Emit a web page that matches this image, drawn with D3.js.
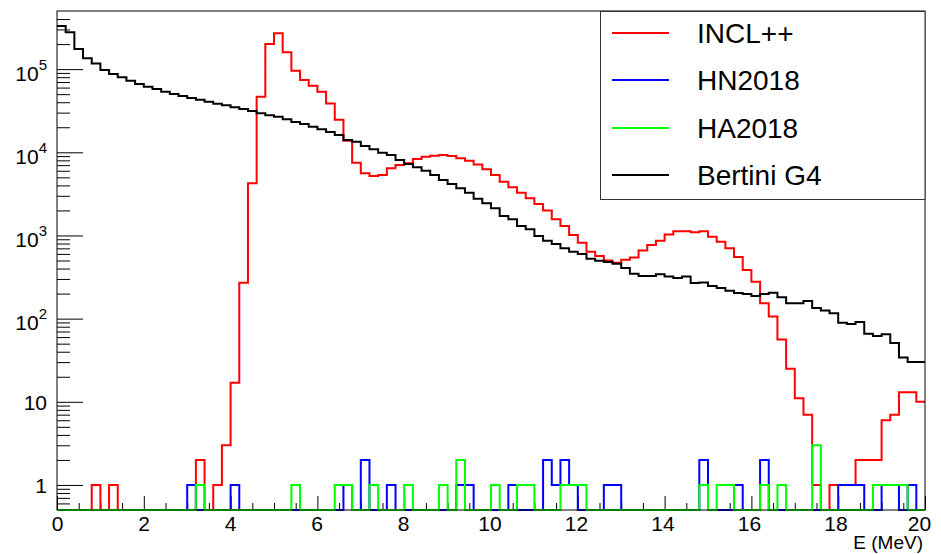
<!DOCTYPE html>
<html>
<head>
<meta charset="utf-8">
<script src="https://cdn.jsdelivr.net/npm/d3@7"></script>
<style>
  body { margin: 0; background: #fff; }
  svg { font-family: "Liberation Sans", Arial, Helvetica, sans-serif; }
  .tick line { stroke: #000; }
</style>
</head>
<body>
<svg id="chart" width="941" height="554"></svg>
<script>
// 100 bins of 0.2 MeV from 0 to 20
var binWidth = 0.2;

var incl = [0, 0, 0, 0, 1, 0, 1, 0, 0, 0,
  0, 0, 0, 0, 0, 0, 2, 0, 1, 3,
  17, 270, 4240, 46700, 200600, 270000, 159500, 95800, 74100, 63000,
  53600, 38600, 24700, 13800, 7500, 5590, 5190, 5340, 6420, 7040,
  7380, 8310, 8860, 9110, 9290, 9030, 8470, 7930, 7140, 6250,
  5340, 4430, 3800, 3270, 2800, 2390, 1990, 1570, 1300, 1010,
  819, 638, 567, 500, 470, 510, 545, 660, 769, 865,
  1030, 1120, 1120, 1090, 1120, 965, 843, 702, 552, 385,
  278, 153, 106, 56, 25, 11, 7, 1, 0, 1,
  1, 1, 2, 2, 2, 6, 7, 13, 13, 10];

var hn2018 = [0, 0, 0, 0, 0, 0, 0, 0, 0, 0,
  0, 0, 0, 0, 0, 1, 0, 0, 0, 0,
  1, 0, 0, 0, 0, 0, 0, 0, 0, 0,
  0, 0, 0, 1, 0, 2, 0, 0, 1, 0,
  0, 0, 0, 0, 0, 0, 1, 1, 0, 0,
  0, 0, 1, 0, 0, 0, 2, 1, 2, 1,
  0, 0, 0, 1, 1, 0, 0, 0, 0, 0,
  0, 0, 0, 0, 2, 0, 0, 0, 1, 0,
  0, 2, 0, 0, 0, 0, 0, 0, 0, 0,
  1, 1, 1, 0, 0, 1, 1, 0, 1, 0];

var ha2018 = [0, 0, 0, 0, 0, 0, 0, 0, 0, 0,
  0, 0, 0, 0, 0, 0, 1, 0, 0, 0,
  0, 0, 0, 0, 0, 0, 0, 1, 0, 0,
  0, 0, 1, 1, 0, 0, 1, 0, 0, 0,
  1, 0, 0, 0, 1, 0, 2, 0, 0, 0,
  1, 0, 0, 1, 1, 0, 0, 0, 1, 1,
  1, 0, 0, 0, 0, 0, 0, 0, 0, 0,
  0, 0, 0, 0, 1, 0, 1, 1, 0, 0,
  0, 1, 0, 1, 0, 0, 0, 3, 0, 0,
  0, 0, 0, 0, 1, 1, 1, 1, 0, 0];

var bertini = [330000, 277000, 175000, 135000, 117000, 97700, 87400, 79800, 72600, 66300,
  61500, 57700, 53600, 50200, 47500, 45000, 42900, 40600, 38400, 36800,
  34800, 33200, 31400, 29400, 27900, 26800, 24900, 23200, 21900, 20300,
  18900, 17500, 16100, 14100, 13400, 11900, 10900, 9890, 9290, 8090,
  7240, 6600, 6010, 5340, 4650, 4160, 3690, 3270, 2760, 2440,
  2120, 1710, 1570, 1300, 1190, 986, 865, 790, 701, 638,
  599, 526, 498, 480, 458, 406, 347, 326, 326, 341,
  321, 308, 320, 268, 272, 247, 234, 217, 204, 198,
  187, 198, 205, 181, 153, 153, 163, 134, 125, 116,
  89, 86, 91, 66, 62, 65, 51, 34, 30, 30];

var names = ["INCL++", "HN2018", "HA2018", "Bertini G4"];
var colors = ["#ff0000", "#0000ff", "#00ff00", "#000000"];
var xTicks = [0, 2, 4, 6, 8, 10, 12, 14, 16, 18, 20];
var yTicks = [1, 10, 100, 1000, 10000, 100000];
var yLabels = ["1", "10", "10|2", "10|3", "10|4", "10|5"];

var svg = d3.select("#chart");
var padL = 57, padT = 11, padR = 925, padB = 510;

var x = d3.scaleLinear().domain([0, 20]).range([padL, padR]);
var y = d3.scaleLog().domain([0.5, 5e5]).range([padB, padT]);

// x axis: major + minor ticks pointing inside
var xMinor = d3.range(0, 20.01, 0.5).filter(function(d) { return d % 2 !== 0; });
svg.append("g")
    .attr("transform", "translate(0," + padB + ")")
    .call(d3.axisBottom(x).tickValues(xMinor).tickSize(-7).tickFormat(""))
    .call(function(g) { g.select(".domain").remove(); });

svg.append("g")
    .attr("transform", "translate(0," + padB + ")")
    .call(d3.axisBottom(x).tickValues(xTicks).tickSize(-14).tickPadding(6).tickFormat(d3.format("d")))
    .call(function(g) { g.select(".domain").remove(); })
    .selectAll("text")
    .attr("font-size", "21px")
    .attr("fill", "#000")
    .attr("dx", function(d) { return d === 20 ? -6 : -d * 0.15; });

// y axis: log, minor ticks 2..9 per decade
var yMinor = [];
[-1, 0, 1, 2, 3, 4, 5].forEach(function(k) {
  for (var m = 2; m <= 9; m++) {
    var v = m * Math.pow(10, k);
    if (v > 0.5 && v < 5e5) yMinor.push(v);
  }
});
svg.append("g")
    .attr("transform", "translate(" + padL + ",0)")
    .call(d3.axisLeft(y).tickValues(yMinor).tickSize(-13).tickFormat(""))
    .call(function(g) { g.select(".domain").remove(); });

var yAxis = svg.append("g")
    .attr("transform", "translate(" + padL + ",0)")
    .call(d3.axisLeft(y).tickValues(yTicks).tickSize(-26).tickPadding(10).tickFormat(""))
    .call(function(g) { g.select(".domain").remove(); });

yAxis.selectAll(".tick text").each(function(d, i) {
  var t = d3.select(this).attr("font-size", "21px").attr("fill", "#000").attr("dy", null);
  var parts = yLabels[i].split("|");
  if (parts.length === 1) {
    t.attr("y", 8).text(parts[0]);
  } else {
    t.attr("y", 11);
    t.append("tspan").text(parts[0]);
    t.append("tspan").attr("font-size", "15px").attr("dy", -11).text(parts[1]);
  }
});

// histograms (zero bins sit on the bottom edge)
function stepPath(vals) {
  var pts = [];
  vals.forEach(function(v, i) {
    var yy = v > 0 ? y(v) : padB;
    pts.push([x(i * binWidth), yy]);
    pts.push([x((i + 1) * binWidth), yy]);
  });
  return d3.line()(pts);
}

var series = [incl, hn2018, ha2018, bertini];
series.forEach(function(s, i) {
  svg.append("path")
      .attr("d", stepPath(s))
      .attr("fill", "none")
      .attr("stroke", colors[i])
      .attr("stroke-width", 2);
});

// frame
svg.append("rect")
    .attr("x", padL).attr("y", padT)
    .attr("width", padR - padL).attr("height", padB - padT)
    .attr("fill", "none").attr("stroke", "#000").attr("stroke-width", 1);

// x title
svg.append("text")
    .attr("x", padR - 2).attr("y", 549)
    .attr("text-anchor", "end")
    .attr("font-size", "19px")
    .text("E (MeV)");

// legend
var legend = svg.append("g");
legend.append("rect")
    .attr("x", 600.5).attr("y", padT + 0.5)
    .attr("width", padR - 600.5).attr("height", 188)
    .attr("fill", "#fff").attr("stroke", "#333").attr("stroke-width", 1);

var entryY = [33, 80, 128, 175];
names.forEach(function(n, i) {
  legend.append("line")
      .attr("x1", 612).attr("x2", 669)
      .attr("y1", entryY[i]).attr("y2", entryY[i])
      .attr("stroke", colors[i]).attr("stroke-width", 2);
  legend.append("text")
      .attr("x", 697).attr("y", entryY[i] + 10)
      .attr("font-size", "28px")
      .text(n);
});
</script>
</body>
</html>
